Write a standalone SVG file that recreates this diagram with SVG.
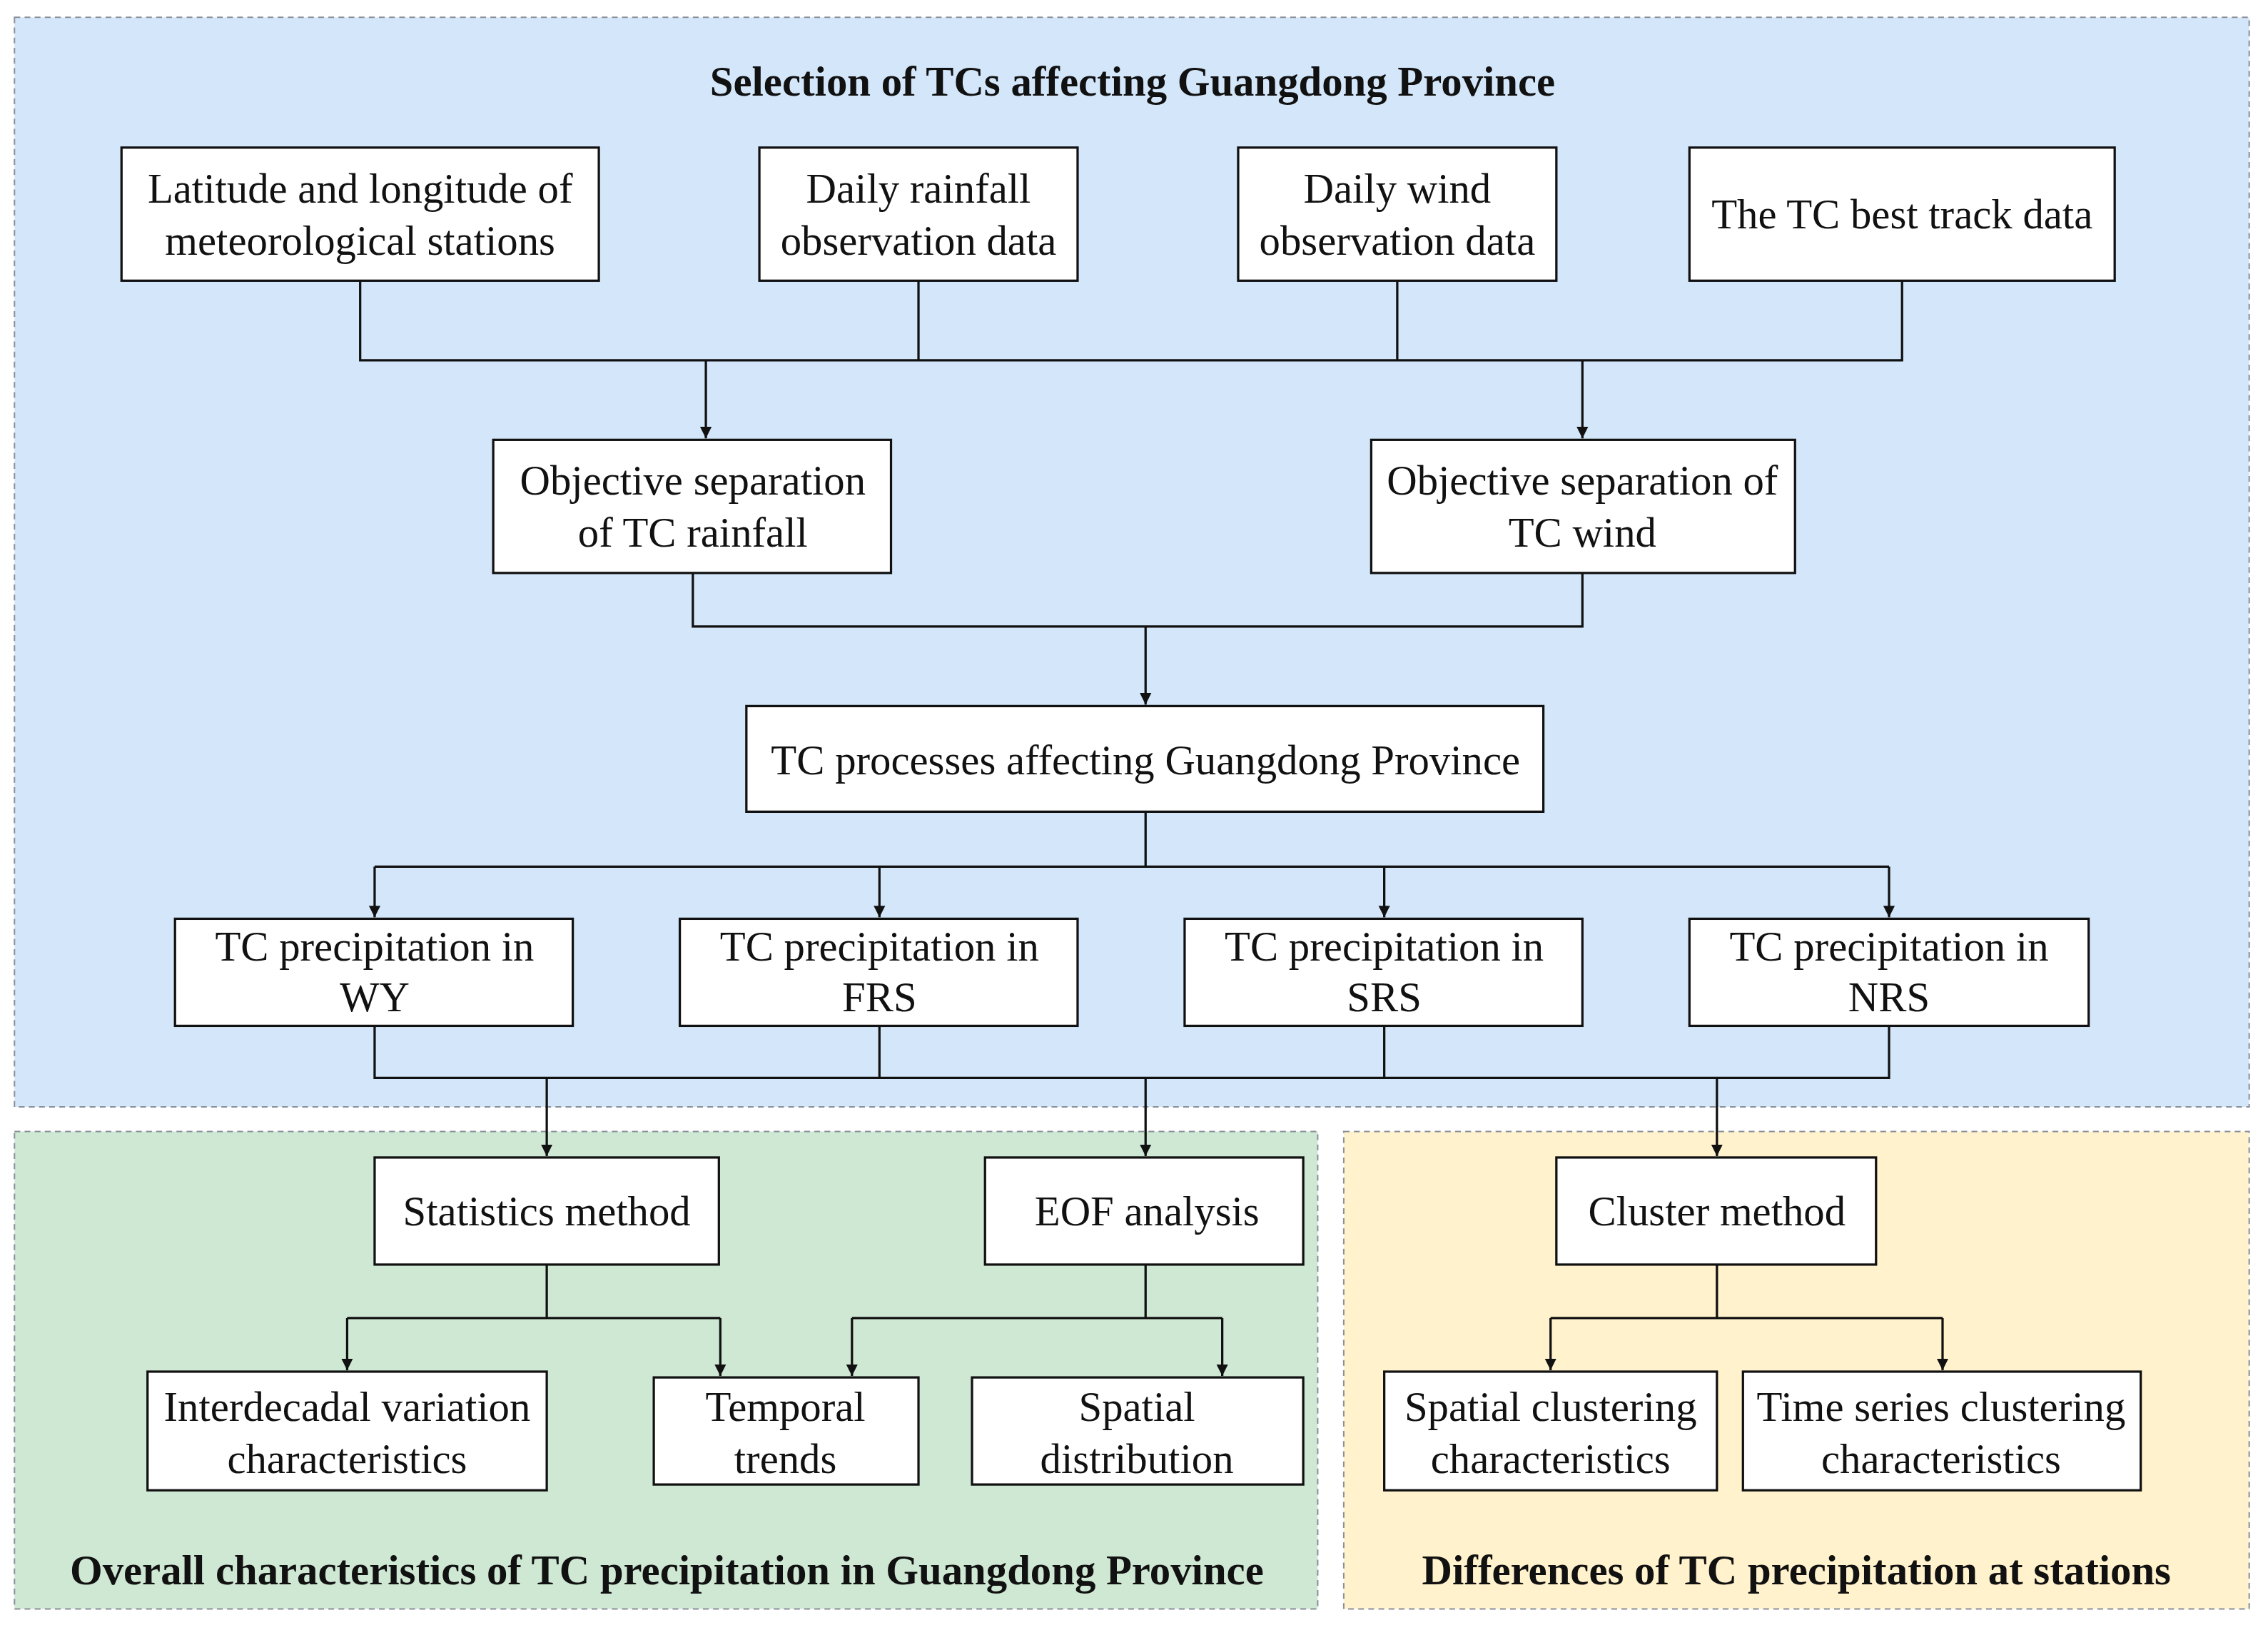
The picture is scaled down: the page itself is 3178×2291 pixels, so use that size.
<svg xmlns="http://www.w3.org/2000/svg" width="3178" height="2291" viewBox="0 0 3178 2291">
<defs>
<style>
.reg{stroke:#8a8f99;stroke-width:1;stroke-dasharray:4 3}
.box{fill:#fff;stroke:#111;stroke-width:1.6}
.t{font-family:"Liberation Serif",serif;font-size:29px;fill:#111;text-anchor:middle}
.h{font-family:"Liberation Serif",serif;font-size:29px;font-weight:bold;fill:#111;text-anchor:middle}
.c{fill:none;stroke:#111;stroke-width:1.6}
</style>
<marker id="a" viewBox="0 0 10 10" refX="10" refY="5" markerWidth="8" markerHeight="9" orient="auto" markerUnits="userSpaceOnUse"><path d="M0,0L10,5L0,10z" fill="#111"/></marker>
</defs>
<rect width="3178" height="2291" fill="#fff"/>
<g transform="scale(2.0268 2.0274)">
<g id="regions">
<rect class="reg" x="10" y="12" width="1545" height="753" fill="#d4e7fa"/>
<rect class="reg" x="10" y="782" width="901" height="330" fill="#cfe8d4"/>
<rect class="reg" x="929" y="782" width="626" height="330" fill="#fff2cc"/>
<text class="h" x="783" y="66">Selection of TCs affecting Guangdong Province</text>
<text class="h" x="461" y="1095">Overall characteristics of TC precipitation in Guangdong Province</text>
<text class="h" x="1242" y="1095">Differences of TC precipitation at stations</text>
</g>
<g id="connectors">
<path class="c" d="M249,194V249H1315V194M635,194V249M966,194V249"/>
<path class="c" d="M488,249V303" marker-end="url(#a)"/>
<path class="c" d="M1094,249V303" marker-end="url(#a)"/>
<path class="c" d="M479,396V433H1094V396"/>
<path class="c" d="M792,433V487" marker-end="url(#a)"/>
<path class="c" d="M792,561V599M259,599H1306"/>
<path class="c" d="M259,599V634" marker-end="url(#a)"/>
<path class="c" d="M608,599V634" marker-end="url(#a)"/>
<path class="c" d="M957,599V634" marker-end="url(#a)"/>
<path class="c" d="M1306,599V634" marker-end="url(#a)"/>
<path class="c" d="M259,709V745H1306V709M608,709V745M957,709V745"/>
<path class="c" d="M378,745V799" marker-end="url(#a)"/>
<path class="c" d="M792,745V799" marker-end="url(#a)"/>
<path class="c" d="M1187,745V799" marker-end="url(#a)"/>
<path class="c" d="M378,874V911M240,911H498"/>
<path class="c" d="M240,911V947" marker-end="url(#a)"/>
<path class="c" d="M498,911V951" marker-end="url(#a)"/>
<path class="c" d="M792,874V911M589,911H845"/>
<path class="c" d="M589,911V951" marker-end="url(#a)"/>
<path class="c" d="M845,911V951" marker-end="url(#a)"/>
<path class="c" d="M1187,874V911M1072,911H1343"/>
<path class="c" d="M1072,911V947" marker-end="url(#a)"/>
<path class="c" d="M1343,911V947" marker-end="url(#a)"/>
</g>
<g id="n1"><rect class="box" x="84" y="102" width="330" height="92"/><text class="t" x="249" y="140">Latitude and longitude of</text><text class="t" x="249" y="176">meteorological stations</text></g>
<g id="n2"><rect class="box" x="525" y="102" width="220" height="92"/><text class="t" x="635" y="140">Daily rainfall</text><text class="t" x="635" y="176">observation data</text></g>
<g id="n3"><rect class="box" x="856" y="102" width="220" height="92"/><text class="t" x="966" y="140">Daily wind</text><text class="t" x="966" y="176">observation data</text></g>
<g id="n4"><rect class="box" x="1168" y="102" width="294" height="92"/><text class="t" x="1315" y="158">The TC best track data</text></g>
<g id="n5"><rect class="box" x="341" y="304" width="275" height="92"/><text class="t" x="479" y="342">Objective separation</text><text class="t" x="479" y="378">of TC rainfall</text></g>
<g id="n6"><rect class="box" x="948" y="304" width="293" height="92"/><text class="t" x="1094" y="342">Objective separation of</text><text class="t" x="1094" y="378">TC wind</text></g>
<g id="n7"><rect class="box" x="516" y="488" width="551" height="73"/><text class="t" x="792" y="535">TC processes affecting Guangdong Province</text></g>
<g id="n8"><rect class="box" x="121" y="635" width="275" height="74"/><text class="t" x="259" y="664">TC precipitation in</text><text class="t" x="259" y="699">WY</text></g>
<g id="n9"><rect class="box" x="470" y="635" width="275" height="74"/><text class="t" x="608" y="664">TC precipitation in</text><text class="t" x="608" y="699">FRS</text></g>
<g id="n10"><rect class="box" x="819" y="635" width="275" height="74"/><text class="t" x="957" y="664">TC precipitation in</text><text class="t" x="957" y="699">SRS</text></g>
<g id="n11"><rect class="box" x="1168" y="635" width="276" height="74"/><text class="t" x="1306" y="664">TC precipitation in</text><text class="t" x="1306" y="699">NRS</text></g>
<g id="n12"><rect class="box" x="259" y="800" width="238" height="74"/><text class="t" x="378" y="847">Statistics method</text></g>
<g id="n13"><rect class="box" x="681" y="800" width="220" height="74"/><text class="t" x="793" y="847">EOF analysis</text></g>
<g id="n14"><rect class="box" x="1076" y="800" width="221" height="74"/><text class="t" x="1187" y="847">Cluster method</text></g>
<g id="n15"><rect class="box" x="102" y="948" width="276" height="82"/><text class="t" x="240" y="982">Interdecadal variation</text><text class="t" x="240" y="1018">characteristics</text></g>
<g id="n16"><rect class="box" x="452" y="952" width="183" height="74"/><text class="t" x="543" y="982">Temporal</text><text class="t" x="543" y="1018">trends</text></g>
<g id="n17"><rect class="box" x="672" y="952" width="229" height="74"/><text class="t" x="786" y="982">Spatial</text><text class="t" x="786" y="1018">distribution</text></g>
<g id="n18"><rect class="box" x="957" y="948" width="230" height="82"/><text class="t" x="1072" y="982">Spatial clustering</text><text class="t" x="1072" y="1018">characteristics</text></g>
<g id="n19"><rect class="box" x="1205" y="948" width="275" height="82"/><text class="t" x="1342" y="982">Time series clustering</text><text class="t" x="1342" y="1018">characteristics</text></g>
</g>
</svg>
